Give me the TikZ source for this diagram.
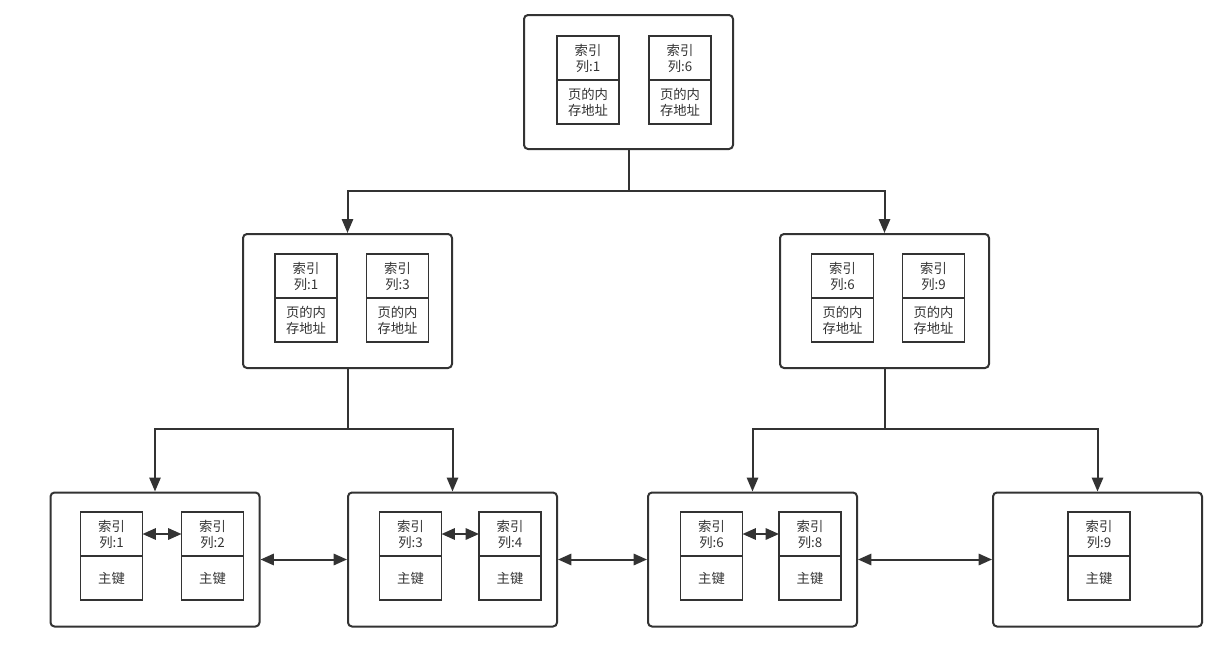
\documentclass[tikz,border=0pt]{standalone}
\usepackage{fontspec}
\newfontfamily\cjk{Noto Sans CJK SC}
\usetikzlibrary{arrows.meta,positioning}
\definecolor{linegray}{HTML}{333333}
\tikzset{
  pagebox/.style={draw=linegray,line width=1.5pt,rounded corners=3pt,minimum width=156.75pt,minimum height=100.5pt,inner sep=0pt},
  keycell/.style={draw=linegray,line width=1.3pt,minimum width=46.5pt,minimum height=33pt,inner sep=0pt,outer sep=0pt,align=center,font=\cjk\fontsize{10}{12}\selectfont,text=linegray},
  valcell/.style={keycell,anchor=north},
  link/.style={draw=linegray,line width=1.5pt,-{Triangle[length=10.5pt,width=8.5pt]}},
  sibling/.style={draw=linegray,line width=1.5pt,{Triangle[length=10pt,width=8.5pt]}-{Triangle[length=10pt,width=8.5pt]}}
}
\begin{document}
\begin{tikzpicture}[x=0.75pt,y=-0.75pt]
    \useasboundingbox (0,0) rectangle (1212,646);

    % root page
    \node[pagebox] (root) at (628.5,82) {};
    \node[keycell] (r1) at (588,58) {索引\\列:1};
    \node[valcell] (r1p) at (r1.south) {页的内\\存地址};
    \node[keycell] (r2) at (680,58) {索引\\列:6};
    \node[valcell] (r2p) at (r2.south) {页的内\\存地址};

    % second level
    \node[pagebox] (n1) at (347.5,301) {};
    \node[keycell] (a1) at (306,276) {索引\\列:1};
    \node[valcell] (a1p) at (a1.south) {页的内\\存地址};
    \node[keycell] (a2) at (397.5,276) {索引\\列:3};
    \node[valcell] (a2p) at (a2.south) {页的内\\存地址};

    \node[pagebox] (n2) at (884.5,301) {};
    \node[keycell] (b1) at (842.5,276) {索引\\列:6};
    \node[valcell] (b1p) at (b1.south) {页的内\\存地址};
    \node[keycell] (b2) at (933.5,276) {索引\\列:9};
    \node[valcell] (b2p) at (b2.south) {页的内\\存地址};

    % leaf pages
    \node[pagebox] (l1) at (155,559.5) {};
    \node[keycell] (c1) at (111.5,534) {索引\\列:1};
    \node[valcell] (c1p) at (c1.south) {主键};
    \node[keycell] (c2) at (212.5,534) {索引\\列:2};
    \node[valcell] (c2p) at (c2.south) {主键};

    \node[pagebox] (l2) at (452.5,559.5) {};
    \node[keycell] (c3) at (410.5,534) {索引\\列:3};
    \node[valcell] (c3p) at (c3.south) {主键};
    \node[keycell] (c4) at (510,534) {索引\\列:4};
    \node[valcell] (c4p) at (c4.south) {主键};

    \node[pagebox] (l3) at (752.5,559.5) {};
    \node[keycell] (c6) at (711.5,534) {索引\\列:6};
    \node[valcell] (c6p) at (c6.south) {主键};
    \node[keycell] (c8) at (810,534) {索引\\列:8};
    \node[valcell] (c8p) at (c8.south) {主键};

    \node[pagebox] (l4) at (1097.5,559.5) {};
    \node[keycell] (c9) at (1099,534) {索引\\列:9};
    \node[valcell] (c9p) at (c9.south) {主键};

    % tree links
    \coordinate (j0) at (628.5,191);
    \coordinate (j1) at (347.5,429);
    \coordinate (j2) at (884.5,429);
    \draw[link] (root.south) -- (j0) -| (n1.north);
    \draw[link] (j0) -| (n2.north);
    \draw[link] (n1.south) -- (j1) -| (l1.north);
    \draw[link] (j1) -| (l2.north);
    \draw[link] (n2.south) -- (j2) -| (l3.north);
    \draw[link] (j2) -| (l4.north);

    % leaf chain
    \draw[sibling] (c1.east) -- (c2.west);
    \draw[sibling] (c3.east) -- (c4.west);
    \draw[sibling] (c6.east) -- (c8.west);
    \draw[sibling] (l1.east) -- (l2.west);
    \draw[sibling] (l2.east) -- (l3.west);
    \draw[sibling] (l3.east) -- (l4.west);
\end{tikzpicture}
\end{document}
